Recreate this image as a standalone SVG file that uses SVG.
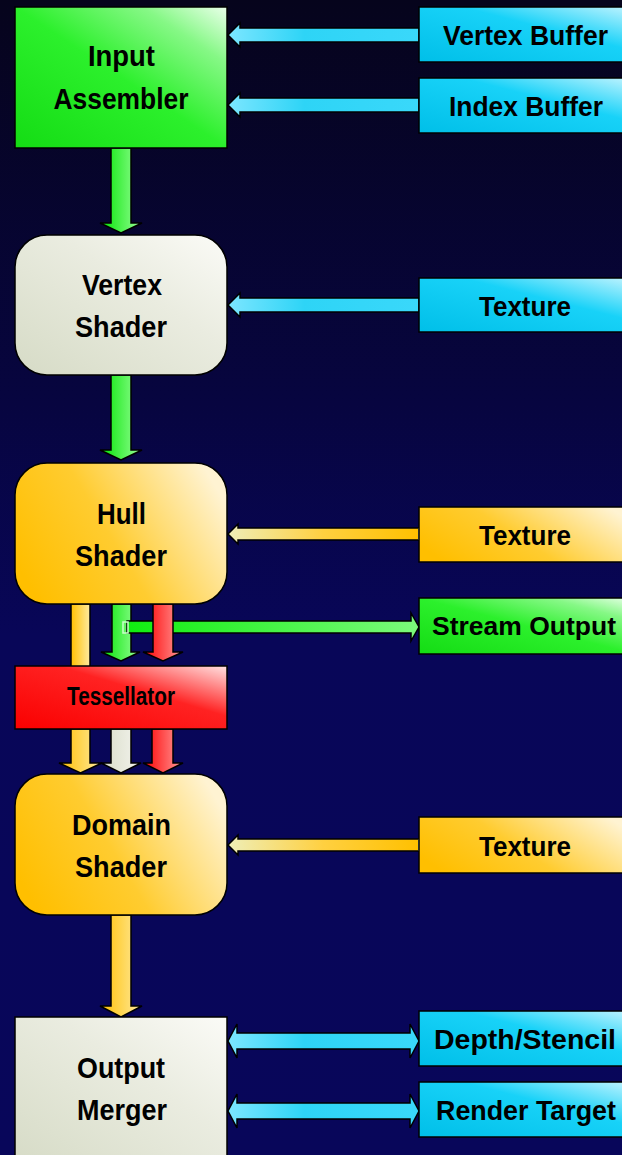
<svg xmlns="http://www.w3.org/2000/svg" width="622" height="1155" viewBox="0 0 622 1155">
  <defs>
    <linearGradient id="bg" x1="0" y1="0" x2="0" y2="1">
      <stop offset="0" stop-color="#06041c"/>
      <stop offset="0.35" stop-color="#070540"/>
      <stop offset="0.55" stop-color="#080658"/>
      <stop offset="1" stop-color="#08065a"/>
    </linearGradient>
    <!-- node fills -->
    <linearGradient id="fGreen" x1="0" y1="1" x2="1" y2="0">
      <stop offset="0" stop-color="#14dc14"/>
      <stop offset="0.5" stop-color="#2cf02c"/>
      <stop offset="0.8" stop-color="#86f886"/>
      <stop offset="1" stop-color="#eaffea"/>
    </linearGradient>
    <linearGradient id="fCyan" x1="0" y1="1" x2="1" y2="0">
      <stop offset="0" stop-color="#00bfe8"/>
      <stop offset="0.6" stop-color="#18d2f8"/>
      <stop offset="1" stop-color="#c4f4ff"/>
    </linearGradient>
    <linearGradient id="fGray" x1="0" y1="1" x2="1" y2="0">
      <stop offset="0" stop-color="#d6dbc6"/>
      <stop offset="0.6" stop-color="#eaece0"/>
      <stop offset="1" stop-color="#fbfbf7"/>
    </linearGradient>
    <linearGradient id="fOrange" x1="0" y1="0.7" x2="1" y2="0.3">
      <stop offset="0" stop-color="#ffbf00"/>
      <stop offset="0.45" stop-color="#ffcc30"/>
      <stop offset="1" stop-color="#fff3d2"/>
    </linearGradient>
    <linearGradient id="fRed" x1="0" y1="1" x2="1" y2="0">
      <stop offset="0" stop-color="#fa0000"/>
      <stop offset="0.6" stop-color="#ff2222"/>
      <stop offset="1" stop-color="#ffe2e2"/>
    </linearGradient>
    <!-- connector fills -->
    <linearGradient id="aGreen" x1="0" y1="0" x2="1" y2="0">
      <stop offset="0" stop-color="#00e400"/>
      <stop offset="1" stop-color="#9aff9a"/>
    </linearGradient>
    <linearGradient id="aGreenH" x1="0" y1="0" x2="1" y2="0">
      <stop offset="0" stop-color="#10ee10"/>
      <stop offset="1" stop-color="#7cfa7c"/>
    </linearGradient>
    <linearGradient id="aCyan" x1="0" y1="0" x2="1" y2="0">
      <stop offset="0" stop-color="#7ce6ff"/>
      <stop offset="0.4" stop-color="#2ed4f6"/>
      <stop offset="1" stop-color="#3ad8fa"/>
    </linearGradient>
    <linearGradient id="aOrange" x1="0" y1="0" x2="1" y2="0">
      <stop offset="0" stop-color="#ffc000"/>
      <stop offset="1" stop-color="#ffeaa0"/>
    </linearGradient>
    <linearGradient id="aOrangeH" x1="0" y1="0" x2="1" y2="0">
      <stop offset="0" stop-color="#eeeeb8"/>
      <stop offset="0.5" stop-color="#ffd040"/>
      <stop offset="1" stop-color="#ffc000"/>
    </linearGradient>
    <linearGradient id="aRed" x1="0" y1="0" x2="1" y2="0">
      <stop offset="0" stop-color="#ff0000"/>
      <stop offset="1" stop-color="#ff9c9c"/>
    </linearGradient>
    <linearGradient id="aGray" x1="0" y1="0" x2="1" y2="0">
      <stop offset="0" stop-color="#d8dcc8"/>
      <stop offset="1" stop-color="#f4f4ee"/>
    </linearGradient>
  </defs>
  <style>
    .box { stroke: #000; stroke-width: 1.5; }
    .arw { stroke: #000; stroke-width: 1.5; stroke-linejoin: miter; }
    .pin { fill: none; stroke-width: 1.5; }
    text { font-family: "Liberation Sans Narrow", "Liberation Sans", Arial, sans-serif; font-weight: bold; fill: #000; text-anchor: middle; }
    .big { font-size: 30px; }
    .side { font-size: 28px; }
    .tight { font-size: 26px; }
    .small { font-size: 25px; }
  </style>

  <rect x="0" y="0" width="622" height="1155" fill="url(#bg)"/>

  <!-- connectors -->
  <g id="connectors">
    <!-- resource inputs into the pipeline -->
    <polygon class="arw" fill="url(#aCyan)" points="228,35 240,23 240,28 419,28 419,42 240,42 240,47"/>
    <polygon class="arw" fill="url(#aCyan)" points="228,105 240,93 240,98 419,98 419,112 240,112 240,117"/>
    <polygon class="arw" fill="url(#aCyan)" points="228,305 240,293 240,298 419,298 419,312 240,312 240,317"/>
    <polygon class="arw" fill="url(#aOrangeH)" points="228,534 238,524 238,528 419,528 419,540 238,540 238,544"/>
    <polygon class="arw" fill="url(#aOrangeH)" points="228,845 238,835 238,839 419,839 419,851 238,851 238,855"/>
    <rect class="pin" stroke="#c8f4ff" x="419" y="529" width="5" height="10"/>
    <rect class="pin" stroke="#c8f4ff" x="419" y="840" width="5" height="10"/>

    <!-- stage to stage -->
    <polygon class="arw" fill="url(#aGreen)" points="111,148 131,148 131,223 142,223 121,233 100,223 111,223"/>
    <polygon class="arw" fill="url(#aGreen)" points="111,375 131,375 131,450 142,450 121,460 100,450 111,450"/>

    <!-- hull shader to tessellator -->
    <polygon class="arw" fill="url(#aOrange)" points="71,604 90,604 90,667 71,667"/>
    <polygon class="arw" fill="url(#aGreen)" points="112,604 131,604 131,652 140,652 121,661 101,652 112,652"/>
    <polygon class="arw" fill="url(#aGreenH)" points="127,621 411,621 411,613 419,627 411,641 411,633 127,633"/>
    <rect class="pin" stroke="#c8ffc8" x="123" y="622" width="5" height="11"/>
    <polygon class="arw" fill="url(#aRed)" points="153,604 173,604 173,652 183,652 163,661 143,652 153,652"/>

    <!-- tessellator to domain shader -->
    <polygon class="arw" fill="url(#aOrange)" points="71,729 90,729 90,763 102,763 80.5,773 59,763 71,763"/>
    <polygon class="arw" fill="url(#aGray)" points="111,729 131,729 131,763 141,763 121,773 101,763 111,763"/>
    <polygon class="arw" fill="url(#aRed)" points="152,729 173,729 173,763 183,763 163,773 143,763 152,763"/>

    <polygon class="arw" fill="url(#aOrange)" points="111,915 131,915 131,1006 142,1006 121,1017 100,1006 111,1006"/>

    <!-- output merger read/write -->
    <polygon class="arw" fill="url(#aCyan)" points="228,1041 237,1024 237,1033 410,1033 410,1024 419,1041 410,1058 410,1049 237,1049 237,1058"/>
    <polygon class="arw" fill="url(#aCyan)" points="228,1111 237,1094 237,1103 410,1103 410,1094 419,1111 410,1128 410,1119 237,1119 237,1128"/>
  </g>

  <!-- pipeline stages -->
  <g id="input-assembler">
    <rect class="box" x="15" y="7" width="212" height="141" fill="url(#fGreen)"/>
    <text class="big" x="121.5" y="66" textLength="67" lengthAdjust="spacingAndGlyphs">Input</text>
    <text class="big" x="121" y="109" textLength="135" lengthAdjust="spacingAndGlyphs">Assembler</text>
  </g>
  <g id="vertex-shader">
    <rect class="box" x="15" y="235" width="212" height="140" rx="32" fill="url(#fGray)"/>
    <text class="big" x="122" y="295" textLength="80" lengthAdjust="spacingAndGlyphs">Vertex</text>
    <text class="big" x="121" y="337" textLength="92" lengthAdjust="spacingAndGlyphs">Shader</text>
  </g>
  <g id="hull-shader">
    <rect class="box" x="15" y="463" width="212" height="141" rx="32" fill="url(#fOrange)"/>
    <text class="big" x="121.5" y="524" textLength="49" lengthAdjust="spacingAndGlyphs">Hull</text>
    <text class="big" x="121" y="566" textLength="92" lengthAdjust="spacingAndGlyphs">Shader</text>
  </g>
  <g id="tessellator">
    <rect class="box" x="15" y="666" width="212" height="63" fill="url(#fRed)"/>
    <text class="small" x="121" y="705" textLength="108" lengthAdjust="spacingAndGlyphs">Tessellator</text>
  </g>
  <g id="domain-shader">
    <rect class="box" x="15" y="774" width="212" height="141" rx="32" fill="url(#fOrange)"/>
    <text class="big" x="121.5" y="835" textLength="99" lengthAdjust="spacingAndGlyphs">Domain</text>
    <text class="big" x="121" y="877" textLength="92" lengthAdjust="spacingAndGlyphs">Shader</text>
  </g>
  <g id="output-merger">
    <rect class="box" x="15" y="1017" width="212" height="150" fill="url(#fGray)"/>
    <text class="big" x="121" y="1078" textLength="88" lengthAdjust="spacingAndGlyphs">Output</text>
    <text class="big" x="122" y="1120" textLength="90" lengthAdjust="spacingAndGlyphs">Merger</text>
  </g>

  <!-- resources -->
  <g id="vertex-buffer">
    <rect class="box" x="419" y="7" width="215" height="55" fill="url(#fCyan)"/>
    <text class="side" x="525.5" y="45" textLength="165" lengthAdjust="spacingAndGlyphs">Vertex Buffer</text>
  </g>
  <g id="index-buffer">
    <rect class="box" x="419" y="78" width="215" height="55" fill="url(#fCyan)"/>
    <text class="side" x="526" y="116" textLength="154" lengthAdjust="spacingAndGlyphs">Index Buffer</text>
  </g>
  <g id="vs-texture">
    <rect class="box" x="419" y="278" width="215" height="54" fill="url(#fCyan)"/>
    <text class="side" x="525" y="315.5" textLength="92" lengthAdjust="spacingAndGlyphs">Texture</text>
  </g>
  <g id="hs-texture">
    <rect class="box" x="419" y="507" width="215" height="55" fill="url(#fOrange)"/>
    <text class="side" x="525" y="544.5" textLength="92" lengthAdjust="spacingAndGlyphs">Texture</text>
  </g>
  <g id="stream-output">
    <rect class="box" x="419" y="598" width="215" height="56" fill="url(#fGreen)"/>
    <text class="tight" x="524" y="635" textLength="184" lengthAdjust="spacingAndGlyphs">Stream Output</text>
  </g>
  <g id="ds-texture">
    <rect class="box" x="419" y="817" width="215" height="56" fill="url(#fOrange)"/>
    <text class="side" x="525" y="855.5" textLength="92" lengthAdjust="spacingAndGlyphs">Texture</text>
  </g>
  <g id="depth-stencil">
    <rect class="box" x="419" y="1011" width="215" height="55" fill="url(#fCyan)"/>
    <text class="side" x="525" y="1048.5" textLength="182" lengthAdjust="spacingAndGlyphs">Depth/Stencil</text>
  </g>
  <g id="render-target">
    <rect class="box" x="419" y="1082" width="215" height="55" fill="url(#fCyan)"/>
    <text class="side" x="526" y="1120" textLength="180" lengthAdjust="spacingAndGlyphs">Render Target</text>
  </g>
</svg>
